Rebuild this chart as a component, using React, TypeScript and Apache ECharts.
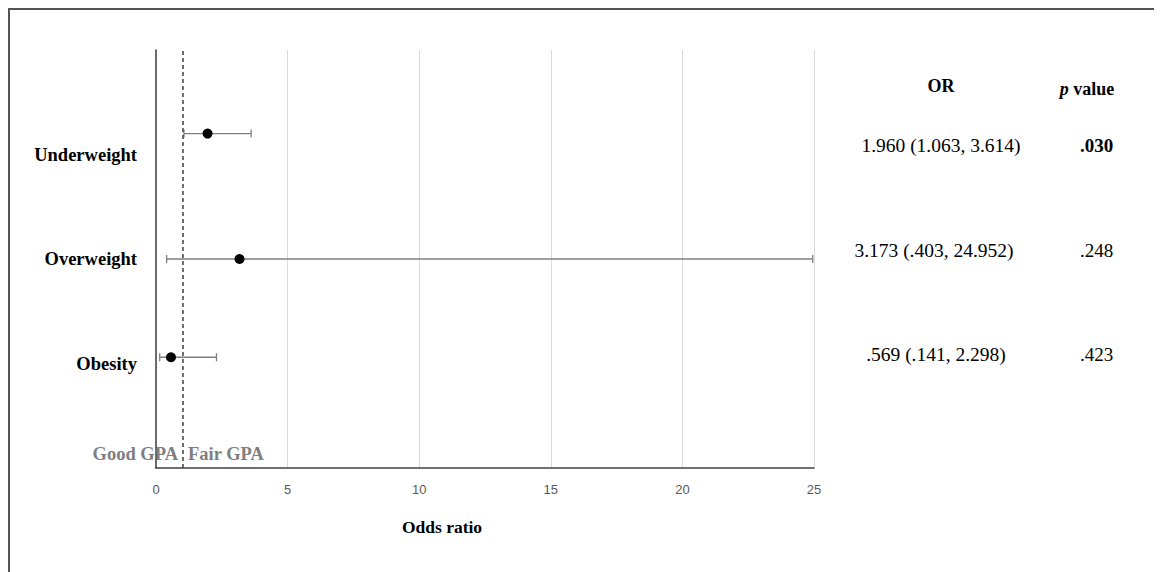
import React, { useEffect, useRef } from "react";
import * as echarts from "echarts";

const categories = ["Underweight", "Overweight", "Obesity"];
const oddsRatio = [1.96, 3.173, 0.569];
const ciLow = [1.063, 0.403, 0.141];
const ciHigh = [3.614, 24.952, 2.298];
// vertical position of each estimate on a 0–4 hidden scale
const rowPos = [3.2, 2.0, 1.06];
const orText = ["1.960 (1.063, 3.614)", "3.173 (.403, 24.952)", ".569 (.141, 2.298)"];
const pText = [".030", ".248", ".423"];
const pBold = [true, false, false];
const xTicks = [0, 5, 10, 15, 20, 25];

const SERIF = '"Liberation Serif", "Times New Roman", serif';

export default function App() {
  const ref = useRef<HTMLDivElement>(null);
  useEffect(() => {
    if (!ref.current) return;
    const chart = echarts.init(ref.current, null, { renderer: "svg" });
    const gridLeft = 148, gridTop = 42, gridW = 658, gridH = 418;
    const yCats = ["", ...categories.slice().reverse(), ""];
    const tableX = [933, 926, 928];
    const tableY = [137, 242, 346];
    const graphics: any[] = [
      { type: "rect", shape: { x: 1, y: 1, width: 1400, height: 900 }, style: { fill: "none", stroke: "#555", lineWidth: 2 }, silent: true },
      { type: "text", x: 933, y: 78, style: { text: "OR", font: `bold 18px ${SERIF}`, fill: "#000", align: "center", verticalAlign: "middle" } },
      {
        type: "text", x: 1079, y: 81,
        style: {
          text: "{i|p} value", align: "center", verticalAlign: "middle",
          font: `bold 18px ${SERIF}`, fill: "#000",
          rich: { i: { fontStyle: "italic", fontWeight: "bold", fontSize: 18, fontFamily: SERIF, fill: "#000" } },
        },
      },
      { type: "text", x: 434, y: 519, style: { text: "Odds ratio", font: `bold 17.5px ${SERIF}`, fill: "#000", align: "center", verticalAlign: "middle" } },
      { type: "text", x: 170, y: 446, style: { text: "Good GPA", font: `bold 18.5px ${SERIF}`, fill: "#7f7f7f", align: "right", verticalAlign: "middle" } },
      { type: "text", x: 180, y: 446, style: { text: "Fair GPA", font: `bold 18.5px ${SERIF}`, fill: "#7f7f7f", align: "left", verticalAlign: "middle" } },
    ];
    orText.forEach((t, i) => {
      graphics.push({ type: "text", x: tableX[i], y: tableY[i], style: { text: t, font: `19.5px ${SERIF}`, fill: "#000", align: "center", verticalAlign: "middle" } });
      graphics.push({ type: "text", x: 1072, y: tableY[i], style: { text: pText[i], font: `${pBold[i] ? "bold " : ""}19px ${SERIF}`, fill: "#000", align: "left", verticalAlign: "middle" } });
    });

    chart.setOption({
      animation: false,
      grid: { left: gridLeft, top: gridTop, width: gridW, height: gridH, containLabel: false },
      xAxis: {
        type: "value", min: 0, max: 25, interval: 5,
        axisLine: { show: true, onZero: false, lineStyle: { color: "#404040", width: 1.5 } },
        axisTick: { show: false },
        splitLine: { show: true, lineStyle: { color: "#d9d9d9", width: 1 } },
        axisLabel: { color: "#595959", fontSize: 13, fontFamily: '"Liberation Sans", Arial, sans-serif', margin: 15,
          formatter: (v: number) => (xTicks.includes(v) ? String(v) : "") },
      },
      yAxis: [
        {
          type: "category", data: yCats, boundaryGap: false,
          axisLine: { show: true, lineStyle: { color: "#404040", width: 1.5 } },
          axisTick: { show: false },
          splitLine: { show: false },
          axisLabel: { color: "#000", fontWeight: "bold", fontSize: 18.5, fontFamily: SERIF, margin: 19 },
        },
        { type: "value", min: 0, max: 4, show: false },
      ],
      graphic: graphics,
      series: [
        {
          type: "custom",
          yAxisIndex: 1,
          clip: false,
          data: categories.map((_, i) => [ciLow[i], ciHigh[i], rowPos[i]]),
          encode: { x: [0, 1], y: 2 },
          renderItem: (params: any, api: any) => {
            const lo = api.coord([api.value(0), api.value(2)]);
            const hi = api.coord([api.value(1), api.value(2)]);
            const h = 4;
            const st = { stroke: "#7f7f7f", lineWidth: 1.3 };
            return {
              type: "group",
              children: [
                { type: "line", shape: { x1: lo[0], y1: lo[1], x2: hi[0], y2: hi[1] }, style: st },
                { type: "line", shape: { x1: lo[0], y1: lo[1] - h, x2: lo[0], y2: lo[1] + h }, style: st },
                { type: "line", shape: { x1: hi[0], y1: hi[1] - h, x2: hi[0], y2: hi[1] + h }, style: st },
              ],
            };
          },
          z: 2,
        },
        {
          type: "scatter",
          yAxisIndex: 1,
          symbol: "circle",
          symbolSize: 10,
          itemStyle: { color: "#000", opacity: 1 },
          data: categories.map((_, i) => [oddsRatio[i], rowPos[i]]),
          z: 3,
          markLine: {
            silent: true,
            symbol: "none",
            label: { show: false },
            lineStyle: { color: "#404040", type: [4, 3], width: 1.5 },
            data: [[{ coord: [1, 0] }, { coord: [1, 4] }]],
          },
        },
      ],
    });
    return () => chart.dispose();
  }, []);
  return <div ref={ref} style={{ width: 1154, height: 564 }} />;
}
